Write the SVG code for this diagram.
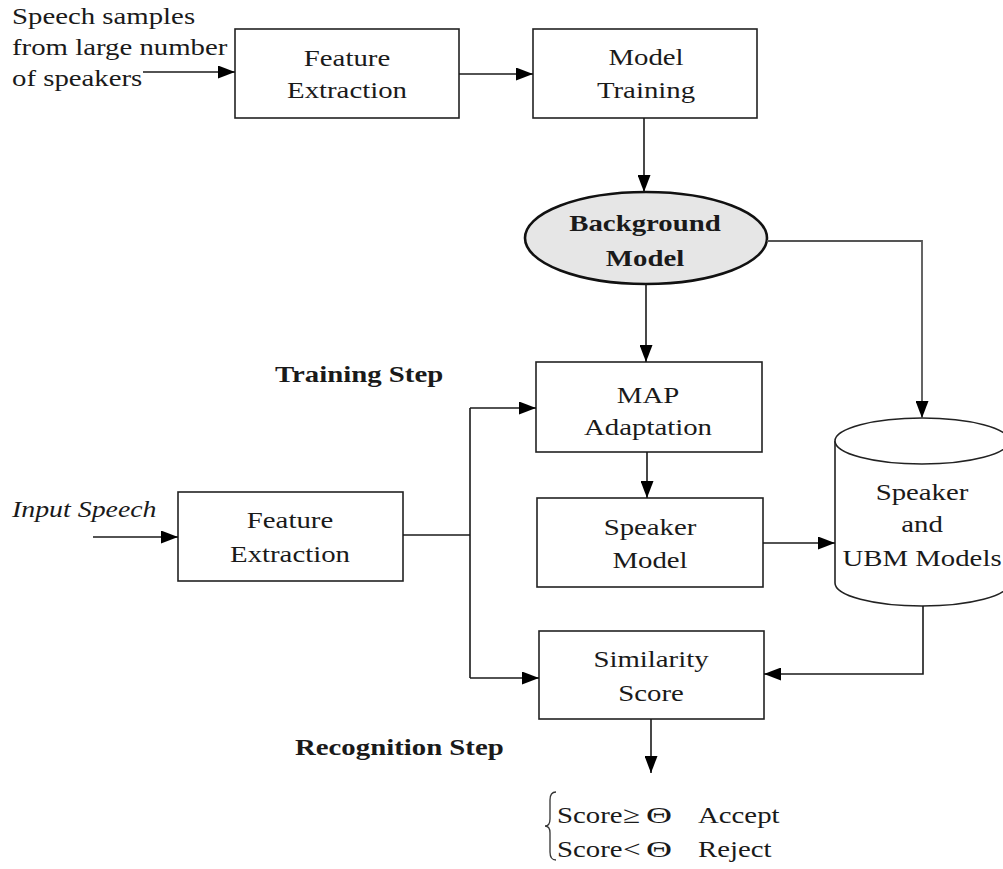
<svg xmlns="http://www.w3.org/2000/svg" width="1003" height="869" viewBox="0 0 1003 869">
  <style>
    .box { fill: #ffffff; stroke: #222222; stroke-width: 1.6; }
    .lbl { font-family: "Liberation Serif", "Times New Roman", serif; font-size: 24px; fill: #1a1a1a; text-anchor: middle; }
    .lft { font-family: "Liberation Serif", "Times New Roman", serif; font-size: 24px; fill: #1a1a1a; }
    .bold { font-weight: bold; }
    .ital { font-style: italic; }
    .wire { fill: none; stroke: #1a1a1a; stroke-width: 1.6; }
    .wire-grey { fill: none; stroke: #555555; stroke-width: 1.8; }
    .arrow { marker-end: url(#head); }
  </style>
  <defs>
    <marker id="head" viewBox="0 0 17 13" refX="17" refY="6.5" markerWidth="17" markerHeight="13" markerUnits="userSpaceOnUse" orient="auto">
      <path d="M0,0 L17,6.5 L0,13 Z" fill="#000000"/>
    </marker>
  </defs>

  <rect width="1003" height="869" fill="#ffffff"/>

  <!-- source description -->
  <g id="speech-samples">
    <text class="lft" transform="translate(12,24) scale(1.2 1)">Speech samples</text>
    <text class="lft" transform="translate(12,55) scale(1.2 1)">from large number</text>
    <text class="lft" transform="translate(12,86) scale(1.2 1)">of speakers</text>
  </g>

  <g id="feature-extraction-top">
    <rect class="box" x="235" y="29" width="224" height="89"/>
    <text class="lbl" transform="translate(347,66) scale(1.2 1)">Feature</text>
    <text class="lbl" transform="translate(347,98) scale(1.2 1)">Extraction</text>
  </g>

  <g id="model-training">
    <rect class="box" x="533" y="29" width="224" height="89"/>
    <text class="lbl" transform="translate(646,65) scale(1.2 1)">Model</text>
    <text class="lbl" transform="translate(646,98) scale(1.2 1)">Training</text>
  </g>

  <g id="background-model">
    <ellipse cx="646" cy="238" rx="121" ry="46" fill="#e6e6e6" stroke="#111111" stroke-width="2.6"/>
    <text class="lbl bold" transform="translate(645,231) scale(1.2 1)">Background</text>
    <text class="lbl bold" transform="translate(645,266) scale(1.2 1)">Model</text>
  </g>

  <g id="training-step">
    <text class="lft bold" transform="translate(275,382) scale(1.2 1)">Training Step</text>
  </g>

  <g id="map-adaptation">
    <rect class="box" x="536" y="362" width="226" height="90"/>
    <text class="lbl" transform="translate(648,403) scale(1.2 1)">MAP</text>
    <text class="lbl" transform="translate(648,435) scale(1.2 1)">Adaptation</text>
  </g>

  <g id="input-speech">
    <text class="lft ital" transform="translate(12,517) scale(1.16 1)">Input Speech</text>
  </g>

  <g id="feature-extraction-bottom">
    <rect class="box" x="178" y="492" width="225" height="89"/>
    <text class="lbl" transform="translate(290,528) scale(1.2 1)">Feature</text>
    <text class="lbl" transform="translate(290,562) scale(1.2 1)">Extraction</text>
  </g>

  <g id="speaker-model">
    <rect class="box" x="537" y="498" width="226" height="89"/>
    <text class="lbl" transform="translate(650,535) scale(1.2 1)">Speaker</text>
    <text class="lbl" transform="translate(650,568) scale(1.2 1)">Model</text>
  </g>

  <g id="model-store">
    <path d="M835,441 V583 A87,23 0 0 0 1009,583 V441" fill="#ffffff" stroke="#222222" stroke-width="1.6"/>
    <ellipse cx="922" cy="441" rx="87" ry="23" fill="#ffffff" stroke="#222222" stroke-width="1.6"/>
    <text class="lbl" transform="translate(922,500) scale(1.2 1)">Speaker</text>
    <text class="lbl" transform="translate(922,532) scale(1.2 1)">and</text>
    <text class="lbl" transform="translate(922,566) scale(1.2 1)">UBM Models</text>
  </g>

  <g id="similarity-score">
    <rect class="box" x="539" y="631" width="225" height="88"/>
    <text class="lbl" transform="translate(651,667) scale(1.2 1)">Similarity</text>
    <text class="lbl" transform="translate(651,701) scale(1.2 1)">Score</text>
  </g>

  <g id="recognition-step">
    <text class="lft bold" transform="translate(295,755) scale(1.2 1)">Recognition Step</text>
  </g>

  <g id="decision">
    <path d="M556,792 Q550,792 550,800 L550,819 Q550,826 545,826 Q550,826 550,833 L550,852 Q550,860 556,860" fill="none" stroke="#333333" stroke-width="1.3"/>
    <text class="lft" transform="translate(557,823) scale(1.2 1)">Score</text>
    <text class="lft" transform="translate(623,823) scale(1.3 1)">≥</text>
    <text class="lft" transform="translate(646,823) scale(1.5 1)">Θ</text>
    <text class="lft" transform="translate(698,823) scale(1.2 1)">Accept</text>
    <text class="lft" transform="translate(557,857) scale(1.2 1)">Score</text>
    <text class="lft" transform="translate(623,857) scale(1.3 1)">&lt;</text>
    <text class="lft" transform="translate(646,857) scale(1.5 1)">Θ</text>
    <text class="lft" transform="translate(698,857) scale(1.2 1)">Reject</text>
  </g>

  <!-- connectors -->
  <g id="connectors">
    <path class="wire arrow" d="M143,72 H235"/>
    <path class="wire arrow" d="M459,74 H533"/>
    <path class="wire arrow" d="M644,118 V192"/>
    <path class="wire-grey arrow" d="M767,241 H922 V418"/>
    <path class="wire arrow" d="M646,284 V362"/>
    <path class="wire arrow" d="M93,537 H178"/>
    <path class="wire" d="M403,535 H470"/>
    <path class="wire" d="M470,408 V678"/>
    <path class="wire arrow" d="M470,408 H536"/>
    <path class="wire arrow" d="M470,678 H539"/>
    <path class="wire arrow" d="M647,452 V498"/>
    <path class="wire arrow" d="M763,543 H835"/>
    <path class="wire arrow" d="M923,606 V674 H764"/>
    <path class="wire arrow" d="M651,719 V773"/>
  </g>
</svg>
